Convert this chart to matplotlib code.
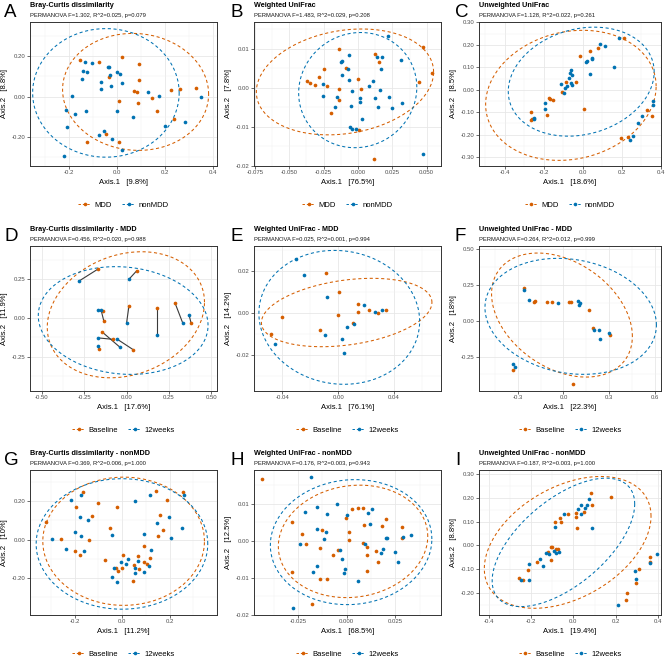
import numpy as np
import matplotlib
matplotlib.use('Agg')
import matplotlib.pyplot as plt
from matplotlib.lines import Line2D
from matplotlib.ticker import MultipleLocator

plt.rcParams['font.family'] = ['Liberation Sans', 'DejaVu Sans']

ORANGE = '#D55E00'
BLUE = '#0072B2'

# ---------------- data ----------------
A_MDD = [(-0.155,0.180),(-0.075,0.172),(0.020,0.197),(0.092,0.162),(-0.035,0.096),(0.093,0.081),
         (0.072,0.025),(0.081,0.023),(0.264,0.036),(0.330,0.043),(0.225,0.031),(0.146,-0.008),
         (0.008,-0.021),(0.086,-0.031),(0.167,-0.073),(0.236,-0.111),(-0.046,-0.187),(-0.124,-0.228),
         (0.007,-0.226)]
A_NON = [(-0.135,0.172),(-0.142,0.127),(-0.127,0.124),(-0.103,0.167),(-0.145,0.086),(-0.068,0.071),
         (-0.067,0.038),(-0.039,0.147),(-0.033,0.147),(-0.029,0.109),(0.001,0.122),(0.010,0.111),
         (-0.025,0.053),(0.021,0.069),(-0.190,0.003),(0.127,0.020),(0.173,0.005),(0.350,0.000),
         (-0.212,-0.068),(-0.132,-0.071),(-0.176,-0.088),(0.001,-0.073),(0.199,-0.149),(0.283,-0.129),
         (0.068,-0.104),(-0.210,-0.154),(-0.053,-0.172),(-0.074,-0.192),(-0.020,-0.212),(0.022,-0.268),
         (-0.220,-0.296)]

B_MDD = [(-0.0141,0.0100),(0.0475,0.0105),(0.0538,0.0038),(0.0445,0.0015),(0.0127,0.0088),(0.0156,0.0066),
         (-0.0251,0.0047),(-0.0090,0.0050),(-0.0285,0.0028),(-0.0368,0.0017),(-0.0348,0.0013),(-0.0312,0.0006),
         (-0.0229,0.0004),(0.0002,0.0022),(0.0024,-0.0002),(-0.0136,-0.0002),(-0.0139,-0.0032),(-0.0195,-0.0064),
         (0.0005,-0.0109),(0.0114,-0.0184)]
B_NON = [(0.0219,0.0133),(-0.0066,0.0083),(-0.0127,0.0067),(-0.0117,0.0068),(0.0141,0.0078),(0.0175,0.0079),
         (0.0312,0.0071),(-0.0071,0.0047),(0.0170,0.0047),(-0.0117,0.0032),(-0.0063,0.0021),(0.0107,0.0018),
         (-0.0256,0.0010),(0.0080,0.0005),(-0.0046,-0.0008),(0.0161,-0.0007),(-0.0256,-0.0021),(-0.0151,-0.0024),
         (0.0017,-0.0025),(0.0127,-0.0026),(0.0229,-0.0024),(-0.0170,-0.0050),(-0.0054,-0.0047),(0.0017,-0.0037),
         (0.0146,-0.0050),(0.0251,-0.0051),(0.0319,-0.0040),(0.0032,-0.0080),(-0.0058,-0.0101),(-0.0041,-0.0105),
         (-0.0012,-0.0105),(0.0475,-0.0170)]

C_MDD = [(0.210,0.231),(-0.014,0.150),(0.034,0.171),(0.076,0.187),(-0.086,0.036),(-0.037,0.033),
         (-0.110,-0.009),(-0.174,-0.037),(-0.167,-0.042),(-0.152,-0.045),(-0.265,-0.100),(-0.186,-0.114),
         (-0.267,-0.136),(-0.262,-0.130),(0.005,-0.088),(0.330,-0.091),(0.353,-0.117),(0.196,-0.217),
         (0.230,-0.210)]
C_NON = [(0.088,0.205),(0.113,0.193),(0.186,0.229),(0.015,0.123),(0.020,0.127),(0.047,0.142),(0.047,0.138),
         (0.037,0.072),(0.157,0.102),(-0.059,0.090),(-0.069,0.075),(-0.054,0.066),(-0.073,0.054),(-0.115,0.027),
         (-0.081,0.018),(-0.090,0.007),(-0.061,0.030),(-0.054,0.022),(-0.098,-0.015),(-0.193,-0.061),
         (-0.196,-0.087),(-0.252,-0.126),(-0.250,-0.130),(0.357,-0.048),(0.357,-0.067),(0.303,-0.118),
         (0.281,-0.150),(0.257,-0.208),(0.240,-0.222)]

# D: same subject at index i in both lists (connected by a segment)
D_BASE = [(-0.171,0.314),(0.059,0.303),(0.014,0.077),(0.183,0.062),(0.287,0.096),(0.382,-0.034),
          (-0.142,0.043),(-0.134,-0.021),(-0.144,-0.090),(-0.083,-0.137),(0.041,-0.205),(-0.163,-0.199)]
D_W12 = [(-0.283,0.237),(0.016,0.252),(0.000,-0.034),(0.183,-0.107),(0.333,-0.034),(0.370,0.019),
         (-0.167,0.051),(-0.150,0.049),(-0.039,-0.188),(-0.167,-0.128),(-0.057,-0.135),(-0.167,-0.182)]

E_BASE = [(-0.0088,0.0188),(0.0007,0.0100),(0.0139,0.0042),(0.0139,0.0005),(0.0222,0.0013),(0.0284,-0.0003),
          (0.0339,0.0014),(-0.0401,-0.0018),(-0.0002,-0.0011),(0.0103,-0.0050),(-0.0131,-0.0082),(-0.0480,-0.0101)]
E_W12 = [(-0.0306,0.0255),(-0.0246,0.0180),(-0.0081,0.0076),(0.0184,0.0039),(0.0260,0.0005),(0.0310,0.0013),
         (0.0112,-0.0056),(0.0062,-0.0069),(-0.0096,-0.0108),(0.0024,-0.0125),(0.0043,-0.0190),(-0.0454,-0.0149)]

F_BASE = [(-0.259,0.224),(-0.193,0.132),(-0.185,0.136),(-0.111,0.127),(-0.076,0.127),(0.035,0.132),
          (0.052,0.129),(0.167,0.074),(0.196,-0.051),(0.304,-0.097),(-0.330,-0.342),(0.059,-0.441)]
F_W12 = [(-0.259,0.212),(-0.224,0.141),(-0.033,0.125),(0.098,0.134),(0.102,0.106),(0.111,0.122),
         (0.200,-0.065),(0.230,-0.065),(0.239,-0.127),(0.300,-0.088),(-0.330,-0.300),(-0.320,-0.321)]

G_BASE = [(-0.166,0.246),(-0.194,0.166),(-0.100,0.189),(-0.129,0.121),(-0.024,0.166),(-0.323,0.090),
          (-0.260,0.005),(-0.142,-0.005),(-0.053,0.062),(-0.199,-0.059),(-0.177,-0.080),(0.143,0.249),
          (0.255,0.244),(0.189,0.203),(0.159,0.126),(0.171,0.048),(0.152,0.016),(0.090,-0.036),
          (0.003,-0.078),(0.118,-0.094),(0.067,-0.083),(0.105,-0.125),(0.091,-0.118),(0.048,-0.130),
          (0.072,-0.151),(-0.025,-0.145),(-0.018,-0.163),(0.001,-0.145),(-0.072,-0.106),(0.045,-0.216)]
G_W12 = [(-0.173,0.229),(-0.218,0.203),(0.055,0.199),(0.119,0.229),(0.262,0.229),(-0.180,0.114),
         (-0.143,0.100),(0.147,0.088),(0.199,0.114),(-0.201,0.038),(-0.175,0.019),(-0.295,0.005),
         (-0.044,0.021),(0.090,0.026),(0.253,0.062),(0.208,0.007),(-0.160,-0.061),(-0.236,-0.047),
         (0.122,-0.054),(-0.004,-0.118),(0.025,-0.100),(0.015,-0.125),(0.056,-0.145),(0.055,-0.171),
         (0.067,-0.111),(0.114,-0.139),(0.090,-0.170),(-0.036,-0.145),(-0.041,-0.192),(-0.021,-0.218)]

H_BASE = [(-0.0435,0.0168),(-0.0279,0.0051),(-0.0228,0.0019),(-0.0207,-0.0009),(-0.0279,-0.0086),
          (-0.0180,-0.0171),(-0.0127,0.0028),(-0.0139,-0.0020),(-0.0137,-0.0104),(-0.0101,-0.0105),
          (-0.0072,-0.0038),(-0.0046,-0.0026),(-0.0003,0.0061),(0.0014,0.0023),(0.0014,0.0003),
          (0.0029,0.0086),(0.0060,0.0088),(0.0084,0.0089),(0.0089,0.0043),(0.0082,-0.0005),
          (0.0106,-0.0017),(0.0106,-0.0040),(0.0103,-0.0083),(0.0151,-0.0029),(0.0163,-0.0058),
          (0.0204,0.0059),(0.0182,0.0039),(0.0284,0.0037),(0.0284,0.0007)]
H_W12 = [(-0.0183,0.0172),(-0.0216,0.0077),(-0.0151,0.0091),(-0.0099,0.0071),(-0.0051,0.0100),
         (0.0000,0.0068),(-0.0151,0.0032),(-0.0104,0.0023),(-0.0118,0.0004),(-0.0238,-0.0009),
         (-0.0036,-0.0025),(-0.0024,-0.0049),(-0.0009,-0.0077),(-0.0015,-0.0088),(-0.0152,-0.0068),
         (-0.0173,-0.0085),(0.0058,-0.0110),(0.0096,-0.0009),(0.0111,0.0076),(0.0132,0.0085),
         (0.0120,0.0045),(0.0188,-0.0023),(0.0176,-0.0034),(0.0202,0.0006),(0.0209,0.0006),
         (0.0250,-0.0032),(0.0265,-0.0059),(0.0289,0.0009),(0.0329,0.0016),(-0.0277,-0.0183)]

I_BASE = [(0.083,0.217),(0.177,0.201),(0.088,0.168),(0.013,0.135),(0.014,0.120),(0.049,0.138),
          (-0.025,0.132),(-0.061,0.115),(-0.060,0.099),(-0.085,0.097),(0.017,0.072),(-0.107,-0.006),
          (-0.100,-0.006),(-0.082,-0.014),(-0.071,-0.014),(-0.119,-0.028),(-0.105,-0.059),(-0.171,-0.069),
          (-0.212,-0.104),(-0.256,-0.135),(-0.237,-0.145),(0.309,-0.099),(0.361,-0.046),(0.361,-0.069),
          (0.293,-0.158),(0.254,-0.200),(0.249,-0.228)]
I_W12 = [(0.074,0.193),(0.063,0.169),(0.056,0.155),(0.024,0.152),(0.036,0.169),(0.038,0.130),
         (-0.044,0.132),(-0.085,0.076),(0.086,0.073),(-0.130,-0.032),(-0.113,-0.035),(-0.091,-0.023),
         (-0.082,-0.030),(-0.067,-0.027),(-0.158,-0.056),(-0.141,-0.086),(-0.207,-0.077),(-0.245,-0.146),
         (-0.207,-0.146),(0.394,-0.037),(0.362,-0.075),(0.290,-0.108),(0.296,-0.138),(0.212,-0.248)]

# ellipses: centre x, centre y, half-width, half-height, tilt
ELL = {
    'A': [(0.077, 0.023, 0.305, 0.292, -0.04), (-0.047, 0.018, 0.306, 0.321, 0.0)],
    'B': [(-0.0095, 0.0015, 0.0645, 0.0136, 0.19), (-0.0002, -0.0006, 0.0430, 0.0148, 0.05)],
    'C': [(-0.062, -0.025, 0.437, 0.290, 0.14), (-0.009, 0.036, 0.374, 0.243, 0.18)],
    'D': [(-0.004, 0.021, 0.465, 0.406, 0.2), (-0.020, -0.016, 0.502, 0.347, -0.09)],
    'E': [(0.0060, 0.0001, 0.0611, 0.0163, 0.3), (0.0007, -0.0022, 0.0576, 0.0319, -0.06)],
    'F': [(-0.010, 0.039, 0.460, 0.432, -0.35), (0.047, 0.030, 0.560, 0.404, -0.15)],
    'G': [(0.006, -0.009, 0.341, 0.332, 0.0), (-0.001, -0.023, 0.362, 0.338, 0.0)],
    'H': [(0.0033, -0.0002, 0.0384, 0.0152, 0.09), (0.0023, -0.0004, 0.0415, 0.0169, 0.05)],
    'I': [(-0.027, 0.013, 0.393, 0.275, 0.41), (-0.047, 0.013, 0.336, 0.268, 0.64)],
}

TITLES = {
    'A': 'Bray-Curtis dissimilarity', 'B': 'Weighted UniFrac', 'C': 'Unweighted UniFrac',
    'D': 'Bray-Curtis dissimilarity - MDD', 'E': 'Weighted UniFrac - MDD', 'F': 'Unweighted UniFrac - MDD',
    'G': 'Bray-Curtis dissimilarity - nonMDD', 'H': 'Weighted UniFrac - nonMDD', 'I': 'Unweighted UniFrac - nonMDD',
}
SUBTITLES = {
    'A': 'PERMANOVA F=1.302, R^2=0.025, p=0.079', 'B': 'PERMANOVA F=1.483, R^2=0.029, p=0.208',
    'C': 'PERMANOVA F=1.128, R^2=0.022, p=0.261', 'D': 'PERMANOVA F=0.456, R^2=0.020, p=0.988',
    'E': 'PERMANOVA F=0.025, R^2=0.001, p=0.994', 'F': 'PERMANOVA F=0.264, R^2=0.012, p=0.999',
    'G': 'PERMANOVA F=0.369, R^2=0.006, p=1.000', 'H': 'PERMANOVA F=0.176, R^2=0.003, p=0.943',
    'I': 'PERMANOVA F=0.187, R^2=0.003, p=1.000',
}
AX1 = {'A': '9.8%', 'B': '76.5%', 'C': '18.6%', 'D': '17.6%', 'E': '76.1%', 'F': '22.3%',
       'G': '11.2%', 'H': '68.5%', 'I': '19.4%'}
AX2 = {'A': '8.8%', 'B': '7.8%', 'C': '8.5%', 'D': '11.9%', 'E': '14.2%', 'F': '18%',
       'G': '10%', 'H': '12.5%', 'I': '8.8%'}

XTICKS = {
    'A': ['-0.2', '0.0', '0.2', '0.4'],
    'B': ['-0.075', '-0.050', '-0.025', '0.000', '0.025', '0.050'],
    'C': ['-0.4', '-0.2', '0.0', '0.2', '0.4'],
    'D': ['-0.50', '-0.25', '0.00', '0.25', '0.50'],
    'E': ['-0.04', '0.00', '0.04'],
    'F': ['-0.3', '0.0', '0.3', '0.6'],
    'G': ['-0.2', '0.0', '0.2'],
    'H': ['-0.025', '0.000', '0.025'],
    'I': ['-0.4', '-0.2', '0.0', '0.2', '0.4'],
}
YTICKS = {
    'A': ['-0.20', '0.00', '0.20'],
    'B': ['-0.02', '-0.01', '0.00', '0.01'],
    'C': ['-0.30', '-0.20', '-0.10', '0.00', '0.10', '0.20', '0.30'],
    'D': ['-0.25', '0.00', '0.25'],
    'E': ['-0.02', '0.00', '0.02'],
    'F': ['-0.25', '0.00', '0.25', '0.50'],
    'G': ['-0.20', '0.00', '0.20'],
    'H': ['-0.02', '-0.01', '0.00', '0.01'],
    'I': ['-0.20', '-0.10', '0.00', '0.10', '0.20', '0.30'],
}
LIMS = {
    'A': ((-0.364, 0.417), (-0.347, 0.372)),
    'B': ((-0.0757, 0.0604), (-0.0201, 0.0169)),
    'C': ((-0.533, 0.392), (-0.340, 0.302)),
    'D': ((-0.571, 0.535), (-0.470, 0.464)),
    'E': ((-0.0604, 0.0736), (-0.0373, 0.0318)),
    'F': ((-0.552, 0.637), (-0.490, 0.520)),
    'G': ((-0.389, 0.400), (-0.391, 0.360)),
    'H': ((-0.0476, 0.0485), (-0.0201, 0.0191)),
    'I': ((-0.445, 0.413), (-0.290, 0.315)),
}
GROUPS_1 = ['MDD', 'nonMDD']
GROUPS_2 = ['Baseline', '12weeks']

DATA = {'A': (A_MDD, A_NON), 'B': (B_MDD, B_NON), 'C': (C_MDD, C_NON),
        'D': (D_BASE, D_W12), 'E': (E_BASE, E_W12), 'F': (F_BASE, F_W12),
        'G': (G_BASE, G_W12), 'H': (H_BASE, H_W12), 'I': (I_BASE, I_W12)}

# ---------------- layout ----------------
W, H = 669, 658
fig = plt.figure(figsize=(W / 100, H / 100), dpi=100)
COLS = [(30, 217), (254, 441), (479, 661)]
ROWS = [(22, 166), (246, 391), (470, 615)]
LEG_Y = [205, 430, 654]
LETTER_X = [4, 231, 455]

def fx(px):
    return px / W

def fy(py):
    return 1 - py / H

letters = 'ABCDEFGHI'
for i, L in enumerate(letters):
    r, c = divmod(i, 3)
    l, rgt = COLS[c]
    t, b = ROWS[r]
    ax = fig.add_axes([fx(l), fy(b), (rgt - l) / W, (b - t) / H])
    g1, g2 = DATA[L]
    for pts, col, ell in zip((g1, g2), (ORANGE, BLUE), ELL[L]):
        cx, cy, hw, hh, ph = ell
        tt = np.linspace(0, 2 * np.pi, 300)
        ax.plot(cx + hw * np.cos(tt), cy + hh * np.sin(tt + ph), color=col, lw=0.75,
                ls=(0, (3, 2.5)), zorder=2)
    if L == 'D':
        for (x0, y0), (x1, y1) in zip(g1, g2):
            ax.plot([x0, x1], [y0, y1], color='#3a3a3a', lw=0.8, zorder=2.5)
    for pts, col in zip((g1, g2), (ORANGE, BLUE)):
        arr = np.array(pts)
        ax.scatter(arr[:, 0], arr[:, 1], s=7, color=col, linewidths=0, zorder=3)

    (x0, x1), (y0, y1) = LIMS[L]
    ax.set_xlim(x0, x1)
    ax.set_ylim(y0, y1)
    xt = [float(s) for s in XTICKS[L]]
    yt = [float(s) for s in YTICKS[L]]
    ax.set_xticks(xt)
    ax.set_xticklabels(XTICKS[L])
    ax.set_yticks(yt)
    ax.set_yticklabels(YTICKS[L])
    ax.xaxis.set_minor_locator(MultipleLocator((xt[1] - xt[0]) / 2))
    ax.yaxis.set_minor_locator(MultipleLocator((yt[1] - yt[0]) / 2))
    ax.tick_params(which='major', length=2, width=0.5, color='#333333', labelsize=4.3,
                   labelcolor='#4d4d4d', pad=1.2)
    ax.tick_params(which='minor', length=0)
    ax.grid(which='major', color='#e6e6e6', lw=0.55)
    ax.grid(which='minor', color='#f0f0f0', lw=0.35)
    ax.set_axisbelow(True)
    for sp in ax.spines.values():
        sp.set_color('#333333')
        sp.set_linewidth(0.7)
    ax.set_xlabel('Axis.1   [' + AX1[L] + ']', fontsize=5.5, labelpad=2.5)
    ax.set_ylabel('Axis.2   [' + AX2[L] + ']', fontsize=5.5, labelpad=2.5)

    fig.text(fx(LETTER_X[c]), fy(t - 5), L, fontsize=13.5, ha='left', va='baseline')
    fig.text(fx(l), fy(t - 15), TITLES[L], fontsize=5.2, fontweight='bold', ha='left', va='baseline')
    fig.text(fx(l), fy(t - 5.5), SUBTITLES[L], fontsize=4.2, ha='left', va='baseline', color='#1a1a1a')

    names = GROUPS_1 if r == 0 else GROUPS_2
    handles = [Line2D([], [], color=ORANGE, lw=0.7, ls=(0, (2.5, 2)), marker='o', markersize=2.6,
                      markeredgewidth=0),
               Line2D([], [], color=BLUE, lw=0.7, ls=(0, (2.5, 2)), marker='o', markersize=2.6,
                      markeredgewidth=0)]
    fig.legend(handles, names, loc='center', bbox_to_anchor=(fx((l + rgt) / 2), fy(LEG_Y[r])),
               ncol=2, frameon=False, fontsize=5.5, handlelength=1.7, handletextpad=0.45,
               columnspacing=1.3, borderpad=0.1)

fig.savefig('out.png', dpi=100)
